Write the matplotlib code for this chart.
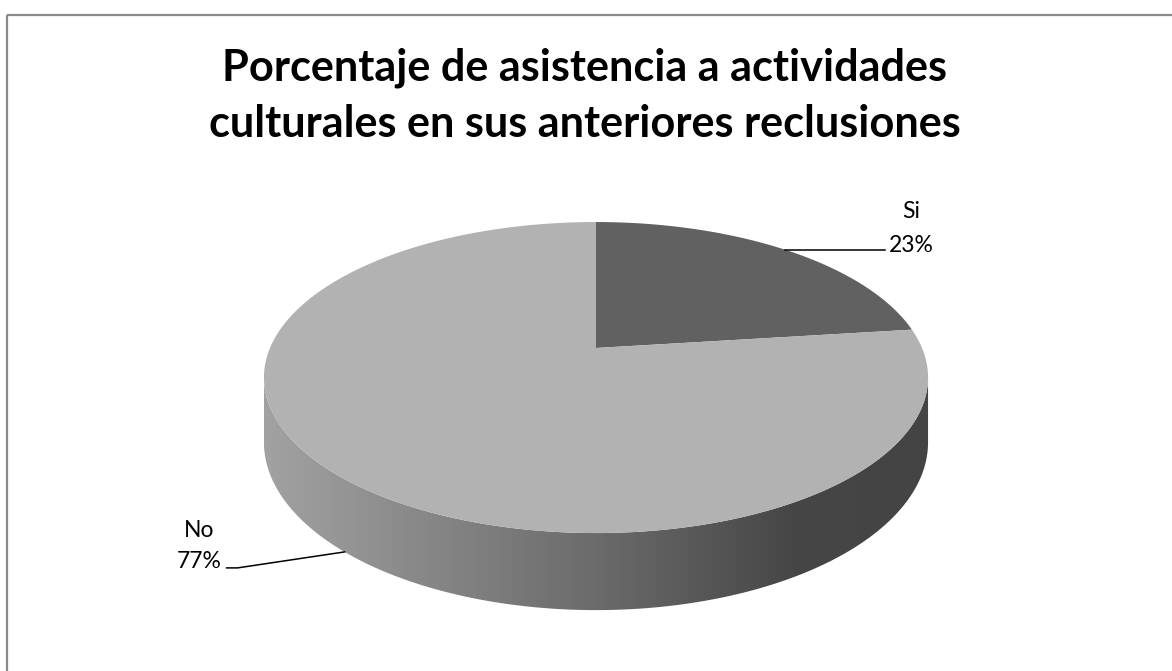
import numpy as np
import matplotlib
matplotlib.use('Agg')
import matplotlib.pyplot as plt
from matplotlib.patches import Polygon, Rectangle
from matplotlib.colors import LinearSegmentedColormap

# data
labels = ['Si', 'No']
values = [23, 77]
pct_text = ['23%', '77%']
slice_colors = ['#616161', '#b2b2b2']
title_lines = ['Porcentaje de asistencia a actividades',
               'culturales en sus anteriores reclusiones']

W, H = 1172, 671
fig = plt.figure(figsize=(W / 100, H / 100), dpi=100)
ax = fig.add_axes([0, 0, 1, 1])
ax.set_xlim(0, W)
ax.set_ylim(H, 0)
ax.axis('off')

# chart border (runs off the right and bottom edges)
ax.add_patch(Rectangle((7, 15), 1180, 680, fill=False, ec='#8a8a8a', lw=1.6))

# perspective pie geometry (pixels)
cx, cy = 596, 348
A, B, k, D = 326, 149.9, 0.19, 62.4


def proj(theta, drop=0.0):
    t = np.radians(theta)
    u, v = np.cos(t), np.sin(t)
    w = 1 + k * v
    return cx + A * u / w, cy - B * v / w + drop * D / w


# visible front side
a0 = np.degrees(np.arcsin(k))
th = np.linspace(180 + a0, 360 - a0, 300)
tx, ty = proj(th)
bx, by = proj(th[::-1], 1.0)
side = Polygon(np.column_stack([np.r_[tx, bx], np.r_[ty, by]]), closed=True,
               fc='none', ec='none')
ax.add_patch(side)
xl, xr = tx.min(), tx.max()
grad = LinearSegmentedColormap.from_list(
    'side', [(0, '#a2a2a2'), (0.5, '#6b6b6b'), (0.8, '#464646'), (1, '#444444')])
im = ax.imshow(np.linspace(0, 1, 256)[None, :], cmap=grad, aspect='auto',
               extent=(xl, xr, by.max() + 2, ty.min() - 2), interpolation='bilinear')
im.set_clip_path(side)

# top face wedges, clockwise from 12 o'clock
fracs = np.array(values) / np.sum(values) * 360
start = 90.0
mids = []
for val, col in zip(fracs, slice_colors):
    angs = np.linspace(start, start - val, 300)
    px, py = proj(angs)
    ax.add_patch(Polygon(np.column_stack([np.r_[cx, px], np.r_[cy, py]]),
                         closed=True, fc=col, ec='none'))
    mids.append(start - val / 2)
    start -= val

ax.set_xlim(0, W)
ax.set_ylim(H, 0)

lab_font = dict(family=['Lato', 'DejaVu Sans'], fontsize=16.5, color='#000000')

# Si label (top rim anchor)
sx, sy = proj(mids[0])
ax.plot([sx, sx + 100], [sy, sy], color='black', lw=1.1)
ax.text(sx + 126, sy - 32, labels[0], ha='center', va='baseline', **lab_font)
ax.text(sx + 127, sy + 2, pct_text[0], ha='center', va='baseline', **lab_font)

# No label (bottom edge anchor)
nx, ny = proj(mids[1], 1.0)
ax.plot([nx, nx - 107, nx - 118], [ny, ny + 16, ny + 16], color='black', lw=1.1)
ax.text(nx - 145, ny - 15, labels[1], ha='center', va='baseline', **lab_font)
ax.text(nx - 145, ny + 16, pct_text[1], ha='center', va='baseline', **lab_font)

# title, sized to the reference width of the first line
t_font = dict(family=['Lato', 'DejaVu Sans'], fontweight='bold', color='#000000')
t1 = ax.text(W / 2 - 1, 80, title_lines[0], ha='center', va='baseline', fontsize=28, **t_font)
fig.canvas.draw()
wpx = t1.get_window_extent().width
fs = 28 * 726 / wpx
t1.set_fontsize(fs)
ax.text(W / 2 - 1, 137, title_lines[1], ha='center', va='baseline', fontsize=fs, **t_font)

fig.savefig('out.png', dpi=100, facecolor='white')
